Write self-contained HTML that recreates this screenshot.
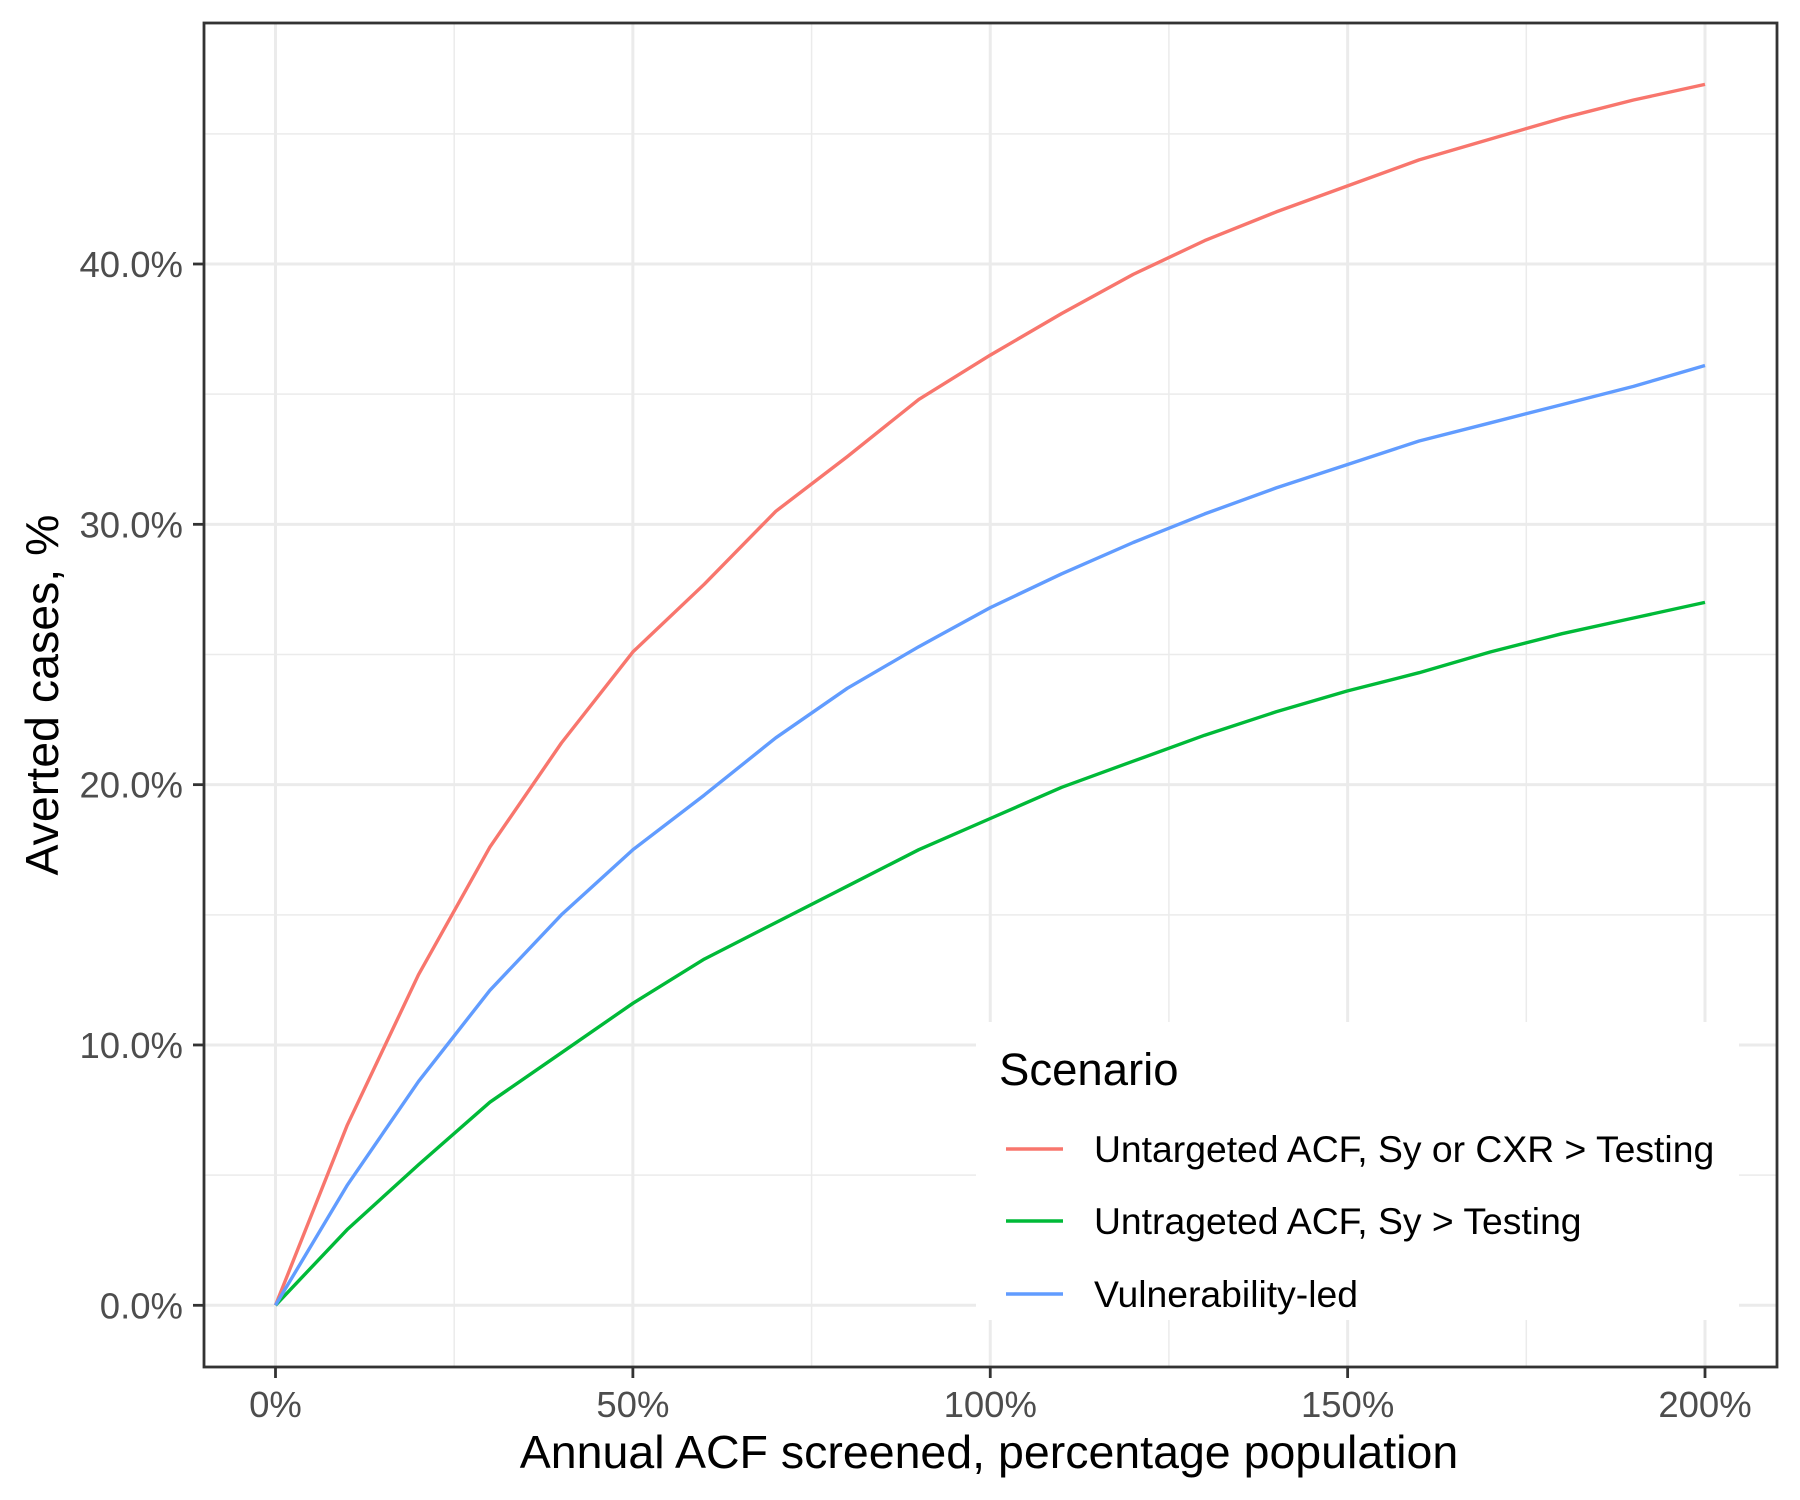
<!DOCTYPE html>
<html><head><meta charset="utf-8"><style>body{margin:0;background:#fff}svg{display:block;font-family:"Liberation Sans",Arial,sans-serif}</style></head>
<body>
<svg id="chart" width="1800" height="1500" viewBox="0 0 1800 1500">
<rect width="1800" height="1500" fill="#fff"/>
<g id="grid"></g>
<g id="series"></g>
<g id="legend">
<rect x="976" y="1022" width="763" height="298" fill="#fff"/>
<text x="999" y="1085" font-size="45.5" fill="#000">Scenario</text>
</g>
<rect x="204" y="23" width="1573" height="1344" fill="none" stroke="#333" stroke-width="2.8"/>
<g id="axes"></g>
<text x="989" y="1468" font-size="46.5" text-anchor="middle" fill="#000">Annual ACF screened, percentage population</text>
<text transform="translate(58,695) rotate(-90)" font-size="46.5" text-anchor="middle" fill="#000">Averted cases, %</text>
</svg>
<script>
const xVals=[0,10,20,30,40,50,60,70,80,90,100,110,120,130,140,150,160,170,180,190,200];
const redVals=[0,6.9,12.7,17.6,21.6,25.1,27.7,30.5,32.6,34.8,36.5,38.1,39.6,40.9,42.0,43.0,44.0,44.8,45.6,46.3,46.9];
const greenVals=[0,2.9,5.4,7.8,9.7,11.6,13.3,14.7,16.1,17.5,18.7,19.9,20.9,21.9,22.8,23.6,24.3,25.1,25.8,26.4,27.0];
const blueVals=[0,4.6,8.6,12.1,15.0,17.5,19.6,21.8,23.7,25.3,26.8,28.1,29.3,30.4,31.4,32.3,33.2,33.9,34.6,35.3,36.1];
const seriesNames=["Untargeted ACF, Sy or CXR > Testing","Untrageted ACF, Sy > Testing","Vulnerability-led"];
const xTicks=[0,50,100,150,200];
const xTickLabels=["0%","50%","100%","150%","200%"];
const yTicks=[0,10,20,30,40];
const yTickLabels=["0.0%","10.0%","20.0%","30.0%","40.0%"];
const NS="http://www.w3.org/2000/svg";
const X=v=>275.5+(v/200)*(1705-275.5);
const Y=v=>1305.3-(v/40)*(1305.3-264);
const PL=204,PR=1777,PT=23,PB=1367;
function mk(t,a,p){const e=document.createElementNS(NS,t);for(const k in a)e.setAttribute(k,a[k]);p.appendChild(e);return e;}
const grid=document.getElementById('grid'),axes=document.getElementById('axes'),ser=document.getElementById('series');
for(let v=-25;v<=225;v+=25){const x=X(v);if(x<PL||x>PR)continue;const major=v%50===0;
 const l=mk('line',{x1:x,x2:x,y1:PT,y2:PB,stroke:'#ebebeb','stroke-width':major?3:1.5},grid);
 
 }
for(let v=-5;v<=50;v+=5){const y=Y(v);if(y<PT||y>PB)continue;const major=v%10===0;
 const l=mk('line',{x1:PL,x2:PR,y1:y,y2:y,stroke:'#ebebeb','stroke-width':major?3:1.5},grid);
 
 }
xTicks.forEach((v,i)=>{const x=X(v);
 const t=mk('line',{x1:x,x2:x,y1:PB,y2:PB+11,stroke:'#333','stroke-width':2.8},axes);
 
 
 const s=mk('text',{x:x,y:1417,'font-size':36.5,'text-anchor':'middle',fill:'#4d4d4d'},axes);s.textContent=xTickLabels[i];
 
 });
yTicks.forEach((v,i)=>{const y=Y(v);
 const t=mk('line',{x1:PL-11,x2:PL,y1:y,y2:y,stroke:'#333','stroke-width':2.8},axes);
 
 
 const s=mk('text',{x:183,y:y+13,'font-size':36.5,'text-anchor':'end',fill:'#4d4d4d'},axes);s.textContent=yTickLabels[i];
 
 });
const all=[[redVals,'#f8766d','red'],[greenVals,'#00ba38','green'],[blueVals,'#619cff','blue']];
all.forEach(([vals,c,n])=>{const d=vals.map((v,i)=>(i?'L':'M')+X(xVals[i]).toFixed(1)+','+Y(v).toFixed(1)).join('');
 const p=mk('path',{d:d,fill:'none',stroke:c,'stroke-width':3.4,'stroke-linejoin':'round'},ser);
 
 });
const lg=document.getElementById('legend');
[1149,1221,1294].forEach((y,i)=>{
 const l=mk('line',{x1:1006,x2:1063,y1:y,y2:y,stroke:all[i][1],'stroke-width':3.4},lg);
 
 
 const t=mk('text',{x:1094,y:y+13,'font-size':37.3,fill:'#000'},lg);t.textContent=seriesNames[i];
 
 });
</script>
</body></html>
